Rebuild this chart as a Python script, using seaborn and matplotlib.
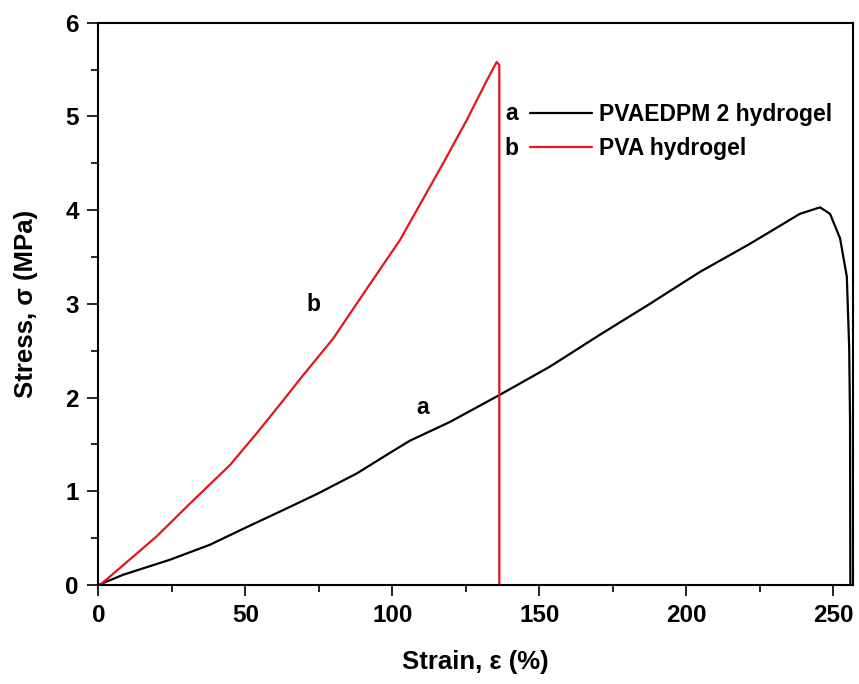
import matplotlib
matplotlib.use("Agg")
import matplotlib.pyplot as plt
import seaborn as sns
from matplotlib.lines import Line2D
from matplotlib.ticker import MultipleLocator

# Curve a: PVAEDPM 2 hydrogel
strain_a = [0, 8.5, 24.4, 38.0, 49.3, 62.9, 74.3, 87.9, 99.2, 106.0, 119.6, 136.6,
            153.6, 170.6, 187.6, 204.6, 221.6, 238.6, 245.5, 248.9, 252.3, 254.6,
            255.4, 255.7, 255.8]
stress_a = [0, 0.11, 0.27, 0.43, 0.60, 0.80, 0.97, 1.19, 1.41, 1.54, 1.74, 2.03,
            2.33, 2.67, 3.00, 3.34, 3.64, 3.96, 4.03, 3.96, 3.70, 3.29,
            2.54, 1.76, 0]

# Curve b: PVA hydrogel
strain_b = [0, 0.6, 19.9, 31.2, 44.8, 53.9, 62.9, 69.2, 79.9, 91.3, 102.6, 117.3,
            125.3, 132.1, 135.5, 136.4, 136.4]
stress_b = [0, 0.0, 0.52, 0.87, 1.28, 1.62, 1.97, 2.22, 2.63, 3.16, 3.68, 4.50,
            4.96, 5.38, 5.58, 5.55, 0]

labels = ["PVAEDPM 2 hydrogel", "PVA hydrogel"]
tags = ["a", "b"]
colors = ["black", "#e8141b"]

sns.set_theme(style="ticks")
plt.rcParams["font.family"] = ["Liberation Sans", "DejaVu Sans"]
plt.rcParams["font.weight"] = "bold"
plt.rcParams["text.color"] = "black"
plt.rcParams["axes.labelcolor"] = "black"

fig, ax = plt.subplots(figsize=(8.59, 6.84), dpi=100)
fig.subplots_adjust(left=0.1144, right=0.993, top=0.9668, bottom=0.1447)

sns.lineplot(x=strain_a, y=stress_a, sort=False, estimator=None, color=colors[0], lw=1.6, ax=ax)
sns.lineplot(x=strain_b, y=stress_b, sort=False, estimator=None, color=colors[1], lw=1.6, ax=ax)

ax.set_xlim(0, 256.7)
ax.set_ylim(0, 6)
ax.xaxis.set_major_locator(MultipleLocator(50))
ax.xaxis.set_minor_locator(MultipleLocator(25))
ax.yaxis.set_major_locator(MultipleLocator(1))
ax.yaxis.set_minor_locator(MultipleLocator(0.5))
ax.tick_params(which="major", direction="out", length=8, width=1.2, labelsize=17.5,
               colors="black", pad=6)
ax.tick_params(which="minor", direction="out", length=5, width=1.2, colors="black")
for lab in ax.get_xticklabels() + ax.get_yticklabels():
    lab.set_fontweight("bold")
for sp in ax.spines.values():
    sp.set_visible(True)
    sp.set_linewidth(1.5)
    sp.set_color("black")

ax.set_xlabel("Strain, ε (%)", fontsize=18.5, fontweight="bold", labelpad=16)
ax.set_ylabel("Stress, σ (MPa)", fontsize=18.5, fontweight="bold", labelpad=20)

# curve tags
ax.text(110.5, 1.89, "a", fontsize=16.5, fontweight="bold", ha="center", va="center")
ax.text(73.1, 2.99, "b", fontsize=16.5, fontweight="bold", ha="center", va="center")

handles = [Line2D([], [], color=c, lw=1.6) for c in colors]
ax.legend(handles, labels, loc="upper left", bbox_to_anchor=(0.56, 0.873), frameon=False,
          prop={"size": 16.5, "weight": "bold"}, handlelength=2.7, handletextpad=0.3,
          labelspacing=0.45, borderaxespad=0)
ax.text(0.548, 0.839, tags[0], transform=ax.transAxes, fontsize=16.5, fontweight="bold",
        ha="center", va="center")
ax.text(0.548, 0.777, tags[1], transform=ax.transAxes, fontsize=16.5, fontweight="bold",
        ha="center", va="center")

fig.savefig("out.png", dpi=100)
